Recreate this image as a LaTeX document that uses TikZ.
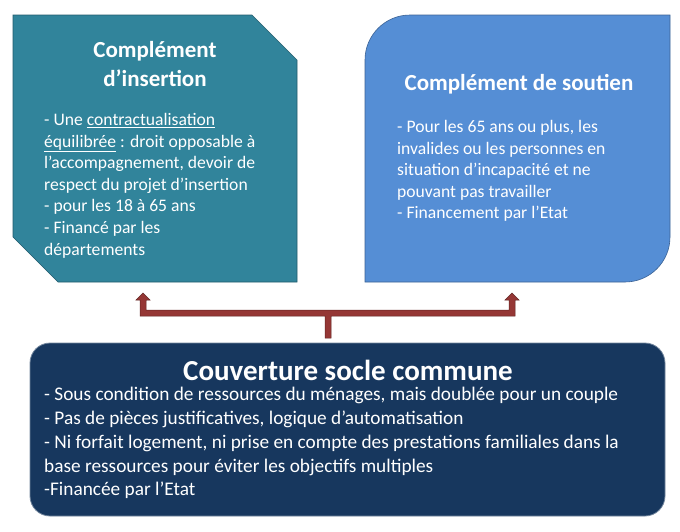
\documentclass[tikz,border=0pt]{standalone}
\usepackage{fontspec}
\setmainfont{Carlito}
\definecolor{teal1}{HTML}{31849B}
\definecolor{blue1}{HTML}{558ED5}
\definecolor{navy1}{HTML}{17375E}
\definecolor{red1}{HTML}{953735}
\definecolor{red2}{HTML}{632523}
\begin{document}
\begin{tikzpicture}[x=1pt,y=-1pt,
  txt/.style={text=white,align=left,font=\fontsize{17.6}{21.6}\selectfont,inner sep=0pt,anchor=north west},
  ttl/.style={text=white,align=center,font=\bfseries\fontsize{23}{29}\selectfont,inner sep=0pt},
  conn/.style={draw=red2,line width=0.5pt,fill=red1}]
\useasboundingbox (0,0) rectangle (680,531);
\fill[white] (0,0) rectangle (680,531);
% left box
\draw[fill=teal1,draw=teal1!70!black,line width=0.6pt] (13,15) -- (252,15) -- (297,60) -- (297,282) -- (58,282) -- (13,237) -- cycle;
\node[ttl] (t1) at (155,64) {Complément\\d’insertion};
\node[txt] (b1) at (44,113) {- Une \underline{contractualisation}\\\underline{équilibrée} : droit opposable à\\l’accompagnement, devoir de\\respect du projet d’insertion\\- pour les 18 à 65 ans\\- Financé par les\\départements};
% right box
\draw[fill=blue1,draw=blue1!70!black,line width=0.6pt] (410,15) -- (670,15) -- (670,237) arc[start angle=0,end angle=90,radius=45] -- (365,282) -- (365,60) arc[start angle=180,end angle=270,radius=45] -- cycle;
\node[ttl] (t2) at (519,84) {Complément de soutien};
\node[txt] (b2) at (397,120) {- Pour les 65 ans ou plus, les\\invalides ou les personnes en\\situation d’incapacité et ne\\pouvant pas travailler\\- Financement par l’Etat};
% bottom box
\draw[fill=navy1,draw=navy1!60!white,line width=0.8pt,rounded corners=20pt] (30,343) rectangle (665,516);
\node[ttl,font=\bfseries\fontsize{29}{34}\selectfont] (t3) at (348,370) {Couverture socle commune};
\node[txt,font=\fontsize{19.3}{23.8}\selectfont] (b3) at (44,387) {- Sous condition de ressources du ménages, mais doublée pour un couple\\- Pas de pièces justificatives, logique d’automatisation\\- Ni forfait logement, ni prise en compte des prestations familiales dans la\\base ressources pour éviter les objectifs multiples\\-Financée par l’Etat};
% connector
\draw[conn] (325,338) -- (325,316) -- (140,316) -- (140,300) -- (136,300) -- (143,293) -- (150,300) -- (146,300) -- (146,310) -- (509,310) -- (509,300) -- (505,300) -- (512,293) -- (519,300) -- (515,300) -- (515,316) -- (331,316) -- (331,338) -- cycle;
\end{tikzpicture}
\end{document}
